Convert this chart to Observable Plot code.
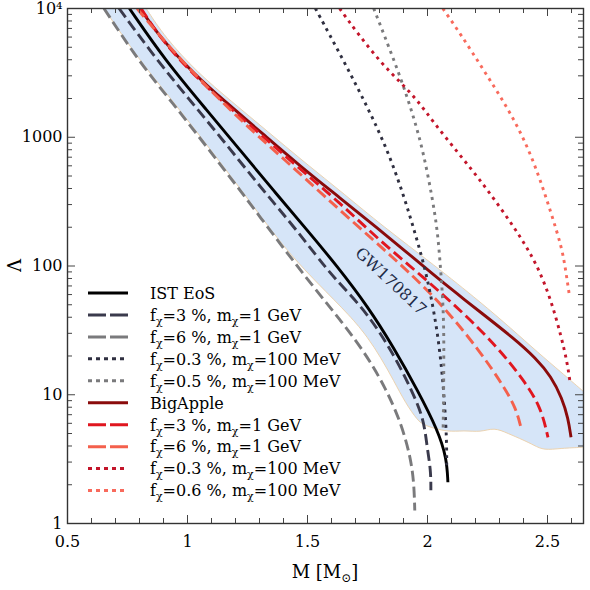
<!DOCTYPE html>
<html><head><meta charset="utf-8">
<script src="https://cdn.jsdelivr.net/npm/d3@7"></script>
<script src="https://cdn.jsdelivr.net/npm/@observablehq/plot@0.6"></script>
<style>body{margin:0;background:#fff}</style>
</head><body><div id="chart"></div>
<script>
// ---- data (M in solar masses, Lambda) ----
const istM   = [0.758, 0.907, 1.082, 1.220, 1.358, 1.500, 1.621, 1.751, 1.859, 1.959, 2.043, 2.080, 2.085];
const istL   = [10000, 3950, 1610, 791, 386, 189, 101, 48.6, 23.3, 10.8, 5.30, 3.21, 2.09];
const ist3M  = [0.715, 0.874, 1.011, 1.149, 1.291, 1.429, 1.542, 1.609, 1.721, 1.805, 1.876, 1.934, 1.984, 1.997, 2.014, 2.014];
const ist3L  = [10000, 3950, 1930, 944, 438, 218, 117, 81.5, 49.4, 30.0, 17.9, 10.8, 6.56, 4.05, 2.59, 1.81];
const ist6M  = [0.652, 0.803, 0.940, 1.082, 1.220, 1.400, 1.533, 1.638, 1.739, 1.827, 1.894, 1.932, 1.944, 1.947];
const ist6L  = [10000, 3740, 1830, 833, 386, 137, 65.8, 37.8, 21.3, 11.2, 5.78, 3.10, 1.98, 1.26];
const ist03M = [1.533, 1.650, 1.751, 1.834, 1.901, 1.951, 1.992, 2.022, 2.043, 2.060, 2.072, 2.080, 2.080];
const ist03L = [10000, 3950, 1700, 791, 353, 173, 92.4, 49.4, 28.9, 15.5, 8.27, 4.43, 2.83];
const ist05M = [1.776, 1.817, 1.888, 1.943, 1.984, 2.022, 2.043, 2.055, 2.064, 2.068, 2.068, 2.067, 2.065];
const ist05L = [10000, 6400, 2910, 1430, 749, 323, 179, 92.4, 54.1, 31.6, 18.5, 9.06, 5.30];
const baM    = [0.803, 0.886, 1.024, 1.166, 1.312, 1.471, 1.638, 1.792, 1.909, 2.014, 2.126, 2.222, 2.360, 2.452, 2.515, 2.561, 2.586, 2.598];
const baL    = [10000, 5950, 3130, 1830, 1070, 593, 335, 196, 130, 89.1, 60.2, 43.6, 27.4, 19.2, 13.9, 9.38, 6.56, 4.67];
const ba3M   = [0.807, 0.890, 1.028, 1.170, 1.316, 1.471, 1.638, 1.805, 1.984, 2.151, 2.293, 2.402, 2.473, 2.502];
const ba3L   = [10000, 5740, 3020, 1730, 1010, 562, 306, 155, 81.5, 42.9, 23.3, 12.9, 7.98, 4.67];
const ba6M   = [0.790, 0.936, 1.095, 1.254, 1.408, 1.567, 1.776, 1.943, 2.085, 2.222, 2.318, 2.369, 2.389];
const ba6L   = [10000, 4720, 2310, 1190, 661, 353, 158, 83.0, 44.4, 21.3, 11.6, 7.84, 5.58];
const ba03M  = [1.634, 1.709, 1.805, 1.888, 1.959, 2.026, 2.126, 2.214, 2.306, 2.389, 2.460, 2.515, 2.556, 2.582, 2.594];
const ba03L  = [10000, 6400, 3810, 2660, 1930, 1300, 762, 479, 280, 167, 99.3, 54.1, 28.9, 17.9, 12.5];
const ba06M  = [2.064, 2.139, 2.235, 2.327, 2.402, 2.464, 2.514, 2.561, 2.577, 2.590];
const ba06L  = [10000, 6280, 3300, 1770, 979, 505, 261, 137, 89.1, 61.3];

// GW170817 band: upper edge (left->right), lower edge (right->left)
const bandUpperM = [0.828, 0.907, 1.041, 1.183, 1.329, 1.488, 1.655, 1.809, 2.030, 2.222, 2.348, 2.460, 2.556, 2.65];
const bandUpperL = [10000, 5950, 3190, 1900, 1130, 637, 360, 207, 101, 52.2, 32.8, 21.3, 15.0, 10.6];
const bandLowerM = [2.65, 2.556, 2.485, 2.444, 2.402, 2.335, 2.277, 2.222, 2.151, 2.085, 1.984, 1.959, 1.909, 1.859, 1.805, 1.751, 1.680, 1.542, 1.400, 1.220, 1.082, 0.940, 0.803, 0.652];
const bandLowerL = [3.91, 3.84, 3.70, 4.05, 4.43, 5.01, 5.58, 5.11, 5.30, 5.11, 5.78, 6.32, 8.57, 12.9, 19.5, 27.9, 40.6, 73.3, 139, 400, 863, 1900, 3880, 10000];

const seriesLabels = [
  "IST EoS", "f_χ=3 %, m_χ=1 GeV", "f_χ=6 %, m_χ=1 GeV", "f_χ=0.3 %, m_χ=100 MeV", "f_χ=0.5 %, m_χ=100 MeV",
  "BigApple", "f_χ=3 %, m_χ=1 GeV", "f_χ=6 %, m_χ=1 GeV", "f_χ=0.3 %, m_χ=100 MeV", "f_χ=0.6 %, m_χ=100 MeV"
];
const xTicks = [0.5, 1, 1.5, 2, 2.5];
const xTickLabels = ["0.5", "1", "1.5", "2", "2.5"];
const yTicks = [1, 10, 100, 1000, 10000];
const yTickLabels = ["1", "10", "100", "1000", "10⁴"];
const gwLabel = {text: "GW170817", M: 1.847, L: 76};

// ---- styles ----
const seriesData = [
  [istM, istL], [ist3M, ist3L], [ist6M, ist6L], [ist03M, ist03L], [ist05M, ist05L],
  [baM, baL], [ba3M, ba3L], [ba6M, ba6L], [ba03M, ba03L], [ba06M, ba06L]
];
const styles = [
  {color: "#000000", kind: "solid"},
  {color: "#3a3a4c", kind: "dash"},
  {color: "#7a7a7c", kind: "dash"},
  {color: "#2f2f40", kind: "dot"},
  {color: "#7a7a7c", kind: "dot"},
  {color: "#8a0b0b", kind: "solid"},
  {color: "#e0161f", kind: "dash"},
  {color: "#f4604c", kind: "dash"},
  {color: "#c3152a", kind: "dot"},
  {color: "#f86a5c", kind: "dot"}
];
const plotDash = {solid: null, dash: "11,5", dot: "3,4.6"};
const legendDash = {solid: null, dash: "18,4", dot: "4,4"};

// B-spline passes through a point repeated three times: pin the ends
const pin = (arr) => [arr[0], arr[0], ...arr, arr[arr.length - 1], arr[arr.length - 1]];
const rows = seriesData.map(([M, L]) => pin(M.map((m, i) => ({M: m, L: L[i]}))));
const up = bandUpperM.map((m, i) => ({M: m, L: bandUpperL[i]}));
const lo = bandLowerM.map((m, i) => ({M: m, L: bandLowerL[i]}));
const bandPts = [...pin(up), ...pin(lo)];

const W = 590, H = 590, mL = 67, mR = 7, mT = 8, mB = 67;
const pW = W - mL - mR, pH = H - mT - mB;
const xMinor = d3.range(6, 27).map(i => i / 10).filter(v => Math.abs(v * 2 - Math.round(v * 2)) > 1e-9);
const yMinor = [1, 10, 100, 1000].flatMap(k => [2,3,4,5,6,7,8,9].map(m => m * k));
const tickColor = "#444";

const lineMark = (idx) => Plot.line(rows[idx], {
  x: "M", y: "L", stroke: styles[idx].color, strokeWidth: 2.9,
  strokeDasharray: plotDash[styles[idx].kind], strokeLinecap: "butt",
  curve: "basis", clip: true
});
const order = [0, 1, 2, 5, 6, 7, 3, 4, 8, 9];

const plot = Plot.plot({
  width: W, height: H, marginLeft: mL, marginRight: mR, marginTop: mT, marginBottom: mB,
  style: {fontFamily: "DejaVu Serif", fontSize: "16px", background: "white", color: "black"},
  x: {domain: [0.5, 2.65]},
  y: {type: "log", domain: [1, 10000]},
  marks: [
    Plot.line(bandPts, {x: "M", y: "L", fill: "#d6e5f8", stroke: "#ecd3b0", strokeWidth: 1, curve: "basis", clip: true}),
    ...order.map(lineMark),
    Plot.text([gwLabel], {x: "M", y: "L", text: "text", rotate: 43, fill: "#1d2b47", fontSize: 16, fontFamily: "DejaVu Serif"}),
    // inward ticks on all four sides
    Plot.tickX(xMinor, {x: d => d, insetTop: pH - 5, stroke: tickColor}),
    Plot.tickX(xTicks, {x: d => d, insetTop: pH - 8, stroke: tickColor}),
    Plot.tickX(xMinor, {x: d => d, insetBottom: pH - 5, stroke: tickColor}),
    Plot.tickX(xTicks, {x: d => d, insetBottom: pH - 8, stroke: tickColor}),
    Plot.tickY(yMinor, {y: d => d, insetRight: pW - 5, stroke: tickColor}),
    Plot.tickY(yTicks, {y: d => d, insetRight: pW - 8, stroke: tickColor}),
    Plot.tickY(yMinor, {y: d => d, insetLeft: pW - 5, stroke: tickColor}),
    Plot.tickY(yTicks, {y: d => d, insetLeft: pW - 8, stroke: tickColor}),
    Plot.frame({stroke: "#333", strokeWidth: 1.4}),
    Plot.axisX(xTicks, {anchor: "bottom", tickSize: 0, tickPadding: 12, fontSize: 16, label: null,
      tickFormat: d => xTickLabels[xTicks.indexOf(d)]}),
    Plot.axisY(yTicks, {anchor: "left", tickSize: 0, tickPadding: 5, fontSize: 16, label: null,
      tickFormat: d => yTickLabels[yTicks.indexOf(d)]})
  ]
});

const svg = d3.select(plot);
// axis labels
const xl = svg.append("text").attr("x", mL + pW / 2).attr("y", 578).attr("text-anchor", "middle")
  .attr("font-family", "DejaVu Serif").attr("font-size", 18).attr("fill", "black");
xl.append("tspan").text("M [M");
xl.append("tspan").attr("font-size", 12).attr("dy", 4).text("⊙");
xl.append("tspan").attr("dy", -4).text("]");
svg.append("text").attr("transform", `translate(21,${mT + pH / 2}) rotate(-90)`).attr("text-anchor", "middle")
  .attr("font-family", "DejaVu Serif").attr("font-size", 18).attr("fill", "black").text("Λ");

// legend
const lg = svg.append("g").attr("font-family", "DejaVu Serif").attr("font-size", 16)
  .attr("fill", "black").attr("text-anchor", "start");
seriesLabels.forEach((lab, i) => {
  const y = 293 + i * 21.95;
  const st = styles[i];
  lg.append("line").attr("x1", 88).attr("x2", 128).attr("y1", y).attr("y2", y)
    .attr("stroke", st.color).attr("stroke-width", 3)
    .attr("stroke-dasharray", legendDash[st.kind]);
  const t = lg.append("text").attr("x", 150).attr("y", y + 5.8).attr("text-anchor", "start");
  const parts = lab.split("_χ");
  parts.forEach((p, j) => {
    t.append("tspan").attr("dy", j === 0 ? 0 : -4).text(p);
    if (j < parts.length - 1) t.append("tspan").attr("font-size", 11).attr("dy", 4).text("χ");
  });
});

document.getElementById("chart").appendChild(plot);
</script>
</body></html>
